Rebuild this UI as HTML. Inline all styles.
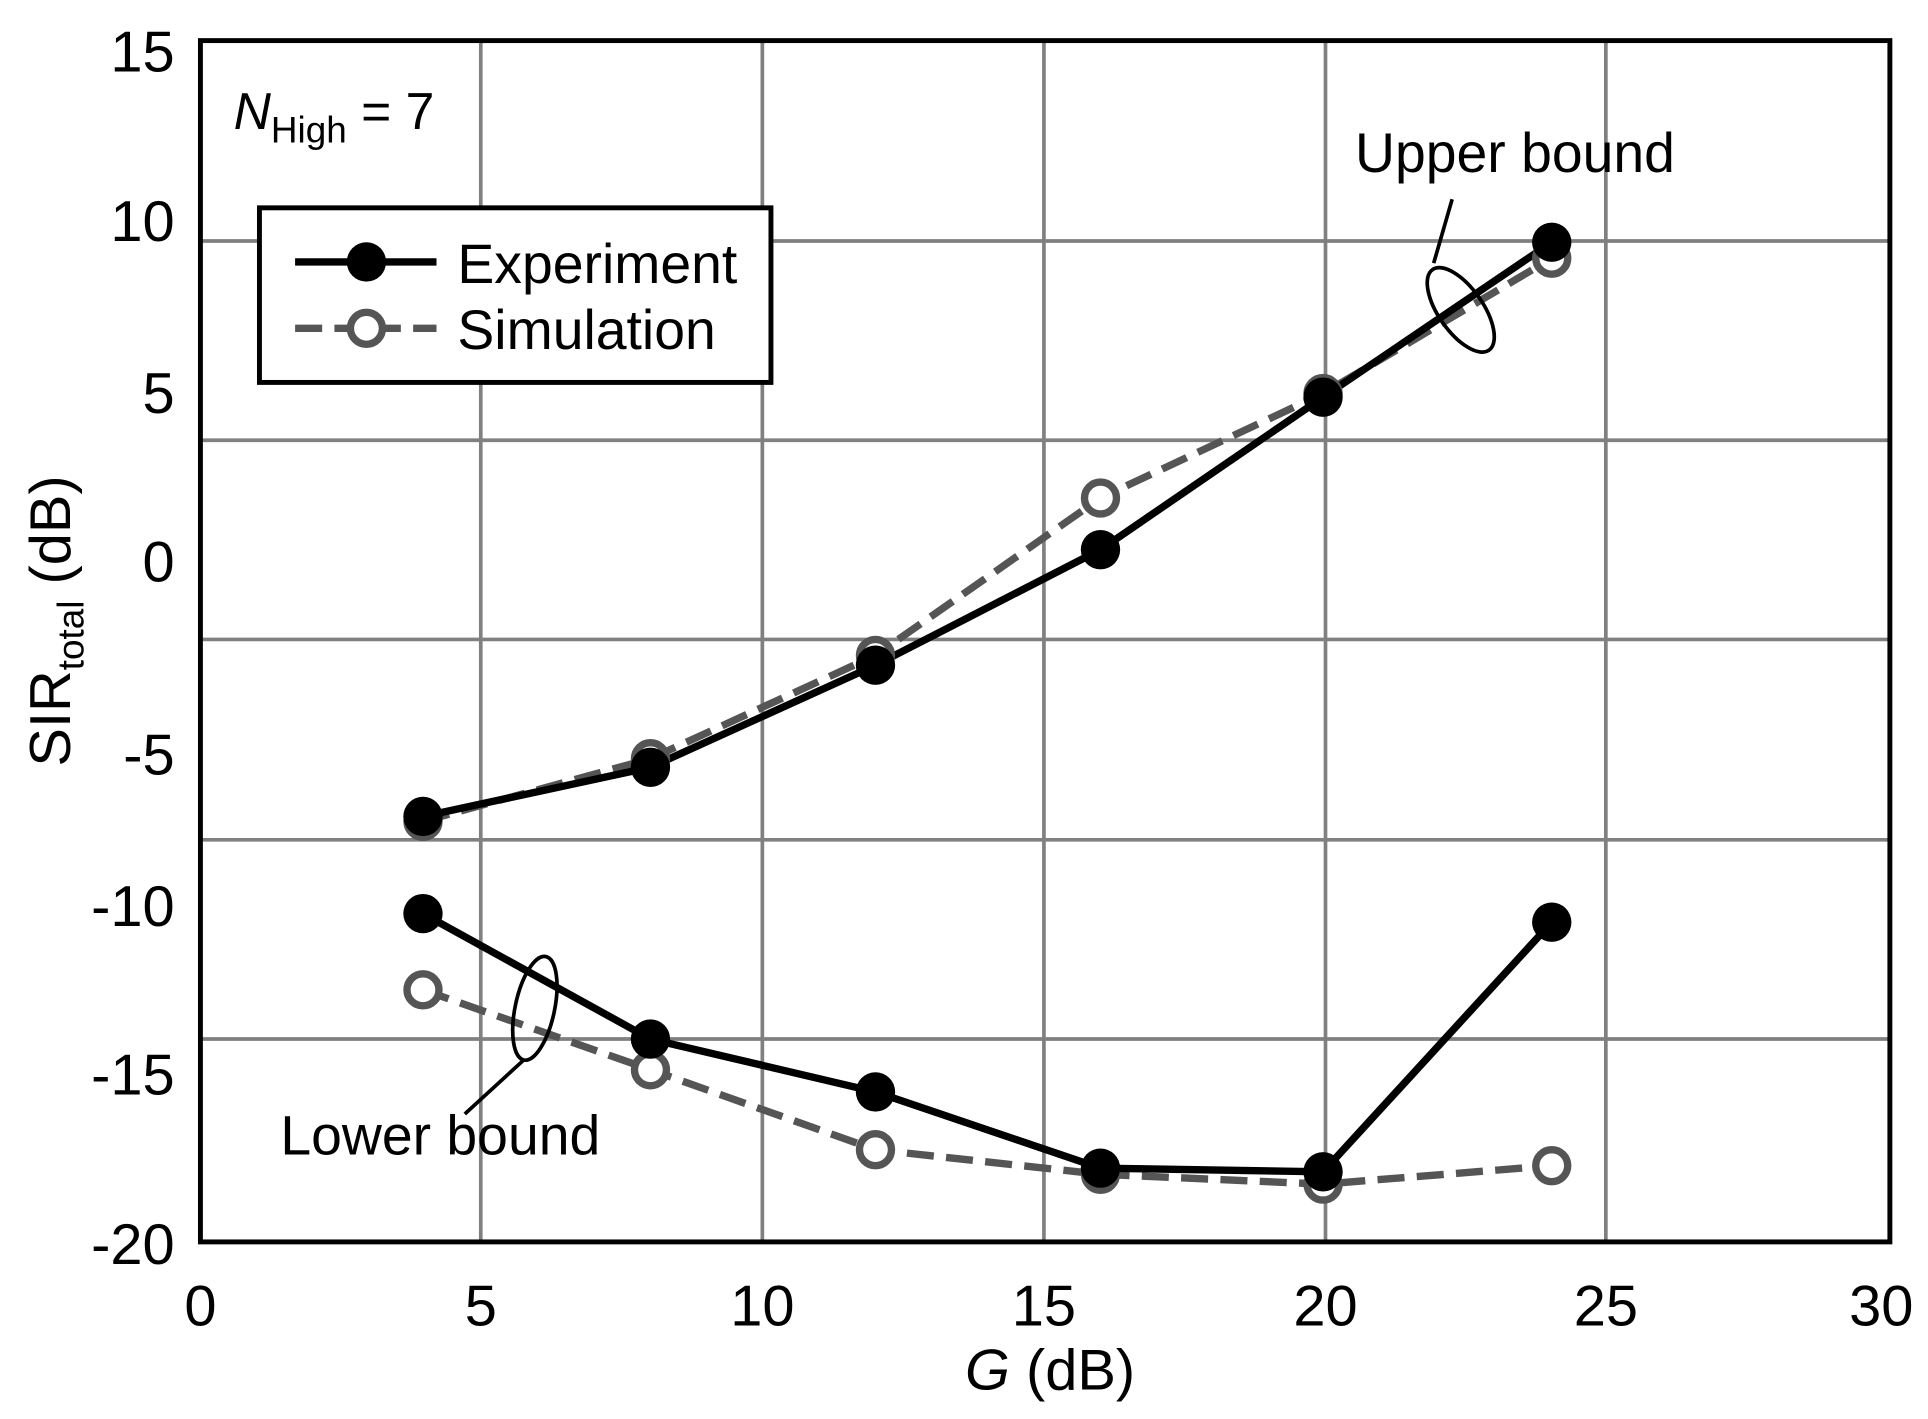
<!DOCTYPE html>
<html><head><style>html,body{margin:0;padding:0;background:#fff}svg{display:block}</style></head>
<body>
<svg width="1928" height="1419" viewBox="0 0 1568 1154" xmlns="http://www.w3.org/2000/svg" font-family="Liberation Sans, Arial, sans-serif">
<rect width="1568" height="1154" fill="#fff"/>
<g stroke="#808080" stroke-width="3">
<line x1="391" y1="33" x2="391" y2="1010"/><line x1="620" y1="33" x2="620" y2="1010"/>
<line x1="849" y1="33" x2="849" y2="1010"/><line x1="1078" y1="33" x2="1078" y2="1010"/>
<line x1="1306" y1="33" x2="1306" y2="1010"/>
<line x1="163" y1="196" x2="1537" y2="196"/><line x1="163" y1="358" x2="1537" y2="358"/>
<line x1="163" y1="520" x2="1537" y2="520"/><line x1="163" y1="683" x2="1537" y2="683"/>
<line x1="163" y1="845" x2="1537" y2="845"/>
</g>
<rect x="163" y="33" width="1374" height="977" fill="none" stroke="#000" stroke-width="4"/>
<g font-size="47" text-anchor="end" fill="#000">
<text x="142" y="58">15</text><text x="142" y="196">10</text><text x="142" y="336">5</text>
<text x="142" y="473">0</text><text x="142" y="630">-5</text><text x="142" y="753">-10</text>
<text x="142" y="890">-15</text><text x="142" y="1028">-20</text>
</g>
<g font-size="47" text-anchor="middle" fill="#000">
<text x="163" y="1078">0</text><text x="391" y="1078">5</text><text x="620" y="1078">10</text>
<text x="849" y="1078">15</text><text x="1078" y="1078">20</text><text x="1306" y="1078">25</text>
<text x="1530" y="1078">30</text>
<text x="854" y="1130"><tspan font-style="italic">G</tspan> (dB)</text>
</g>
<text transform="translate(57,505) rotate(-90)" font-size="47" text-anchor="middle">SIR<tspan font-size="30" dy="11">total</tspan><tspan dy="-11"> (dB)</tspan></text>
<text x="190" y="105" font-size="42"><tspan font-style="italic">N</tspan><tspan font-size="30" dy="11">High</tspan><tspan dy="-11"> = 7</tspan></text>
<g fill="none" stroke="#555" stroke-width="6" stroke-dasharray="22,10">
<polyline points="344,668 529,617 712,533 895,405 1076,320 1262,210"/>
<polyline points="344,805 529,870 712,935 895,955 1076,963 1262,948"/>
</g>
<g fill="none" stroke="#000" stroke-width="6">
<polyline points="344,664 529,624 712,541 895,447 1076,323 1262,197"/>
<polyline points="344,743 529,845 712,888 895,950 1076,953 1262,750"/>
</g>
<g fill="#fff" stroke="#555" stroke-width="6">
<circle cx="344" cy="668" r="13"/><circle cx="529" cy="617" r="13"/><circle cx="712" cy="533" r="13"/>
<circle cx="895" cy="405" r="13"/><circle cx="1076" cy="320" r="13"/><circle cx="1262" cy="210" r="13"/>
<circle cx="344" cy="805" r="13"/><circle cx="529" cy="870" r="13"/><circle cx="712" cy="935" r="13"/>
<circle cx="895" cy="955" r="13"/><circle cx="1076" cy="963" r="13"/><circle cx="1262" cy="948" r="13"/>
</g>
<g fill="#000">
<circle cx="344" cy="664" r="16"/><circle cx="529" cy="624" r="16"/><circle cx="712" cy="541" r="16"/>
<circle cx="895" cy="447" r="16"/><circle cx="1076" cy="323" r="16"/><circle cx="1262" cy="197" r="16"/>
<circle cx="344" cy="743" r="16"/><circle cx="529" cy="845" r="16"/><circle cx="712" cy="888" r="16"/>
<circle cx="895" cy="950" r="16"/><circle cx="1076" cy="953" r="16"/><circle cx="1262" cy="750" r="16"/>
</g>
<g fill="none" stroke="#000" stroke-width="3">
<ellipse cx="1188" cy="252" rx="18" ry="40" transform="rotate(-35 1188 252)"/>
<line x1="1166" y1="214" x2="1181" y2="162"/>
<ellipse cx="435" cy="820" rx="16" ry="43" transform="rotate(12 435 820)"/>
<line x1="426" y1="862" x2="378" y2="906"/>
</g>
<text x="1102" y="140" font-size="45">Upper bound</text>
<text x="228" y="939" font-size="45">Lower bound</text>
<rect x="211" y="169" width="416" height="142" fill="#fff" stroke="#000" stroke-width="4"/>
<line x1="240" y1="213" x2="355" y2="213" stroke="#000" stroke-width="6"/>
<circle cx="298" cy="213" r="16" fill="#000"/>
<line x1="240" y1="267" x2="355" y2="267" stroke="#555" stroke-width="6" stroke-dasharray="22,10"/>
<circle cx="298" cy="267" r="13" fill="#fff" stroke="#555" stroke-width="6"/>
<text x="372" y="230" font-size="45">Experiment</text>
<text x="372" y="284" font-size="45">Simulation</text>
</svg>
</body></html>
